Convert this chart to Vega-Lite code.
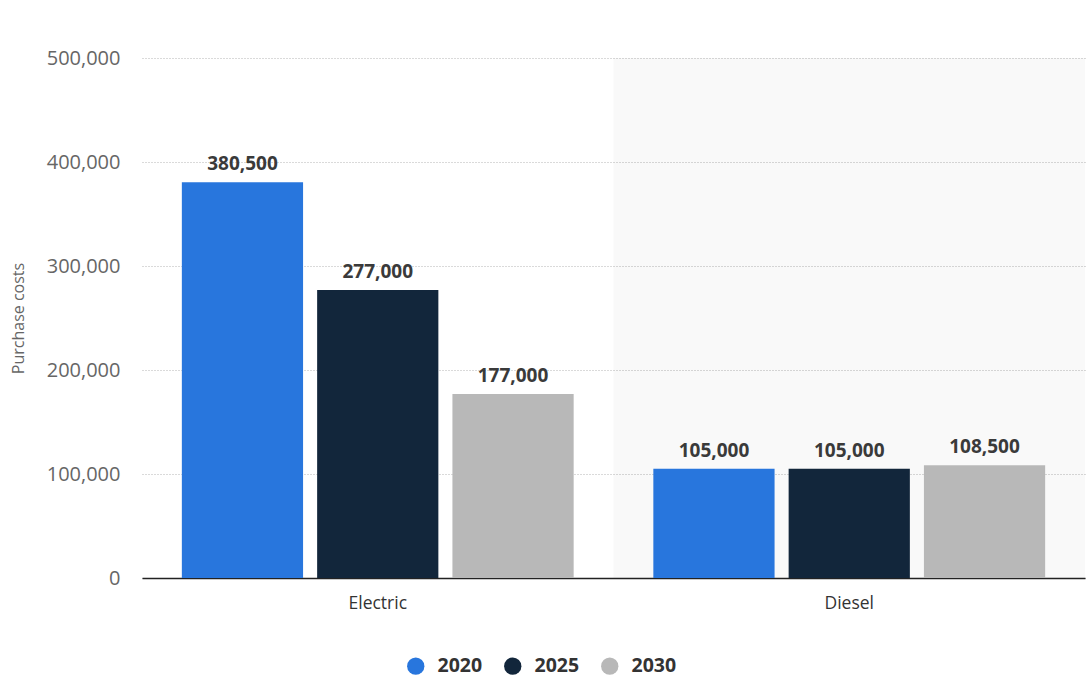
{
  "$schema": "https://vega.github.io/schema/vega-lite/v6.json",
  "width": 943,
  "height": 520,
  "autosize": {"type": "none"},
  "padding": {"left": 142, "top": 58, "right": 2, "bottom": 100},
  "background": "white",
  "config": {"font": "Open Sans", "view": {"stroke": null}},
  "resolve": {"scale": {"x": "independent"}},
  "layer": [
    {
      "data": {"values": [{"Category": "Diesel"}]},
      "mark": {"type": "rect", "fill": "#000000", "fillOpacity": 0.022},
      "encoding": {
        "x": {"field": "Category", "type": "nominal", "scale": {"domain": ["Electric", "Diesel"], "paddingInner": 0, "paddingOuter": 0}, "axis": null},
        "y": {"datum": 500000, "type": "quantitative",
          "scale": {"domain": [0, 500000], "nice": false},
          "axis": {"title": "Purchase costs", "titleFontSize": 16, "titleFontWeight": "normal", "titleColor": "#666666", "titlePadding": 20,
                   "values": [0, 100000, 200000, 300000, 400000, 500000], "format": ",d", "labelFontSize": 20, "labelColor": "#666666", "labelPadding": 22,
                   "ticks": false, "domain": false, "grid": true, "gridColor": "#b4b4b4", "gridDash": [1, 2], "gridWidth": 1}},
        "y2": {"datum": 0}
      }
    },
    {
      "data": {
        "values": [
          {"Category": "Electric", "Year": "2020", "Cost": 380500},
          {"Category": "Electric", "Year": "2025", "Cost": 277000},
          {"Category": "Electric", "Year": "2030", "Cost": 177000},
          {"Category": "Diesel", "Year": "2020", "Cost": 105000},
          {"Category": "Diesel", "Year": "2025", "Cost": 105000},
          {"Category": "Diesel", "Year": "2030", "Cost": 108500}
        ]
      },
      "encoding": {
        "x": {
          "field": "Category", "type": "nominal", "sort": ["Electric", "Diesel"],
          "scale": {"paddingInner": 0.169, "paddingOuter": 0.0845},
          "axis": {"title": null, "labelAngle": 0, "labelFontSize": 17.5, "labelColor": "#333333", "labelPadding": 16, "ticks": false, "domainColor": "#222222", "domainWidth": 1.5}
        },
        "xOffset": {"field": "Year", "type": "nominal", "scale": {"paddingInner": 0.104, "paddingOuter": 0}},
        "y": {
          "field": "Cost", "type": "quantitative",
          "scale": {"domain": [0, 500000], "nice": false},
          "axis": {"title": "Purchase costs", "titleFontSize": 16, "titleFontWeight": "normal", "titleColor": "#666666", "titlePadding": 20,
                   "values": [0, 100000, 200000, 300000, 400000, 500000], "format": ",d", "labelFontSize": 20, "labelColor": "#666666", "labelPadding": 22,
                   "ticks": false, "domain": false, "grid": true, "gridColor": "#b4b4b4", "gridDash": [1, 2], "gridWidth": 1}
        }
      },
      "layer": [
        {
          "mark": {"type": "bar"},
          "encoding": {
            "color": {
              "field": "Year", "type": "nominal",
              "scale": {"domain": ["2020", "2025", "2030"], "range": ["#2876dd", "#12263b", "#b8b8b8"]},
              "legend": {"title": null, "orient": "none", "direction": "horizontal", "legendX": 264, "legendY": 598,
                         "symbolType": "circle", "symbolSize": 300, "symbolStrokeWidth": 0, "labelFontSize": 19.5, "labelFontWeight": "bold",
                         "labelColor": "#333333", "labelOffset": 12, "columnPadding": 20}
            }
          }
        },
        {
          "mark": {"type": "text", "baseline": "bottom", "dy": -8, "fontSize": 19, "fontWeight": "bold", "color": "#3a3a3a"},
          "encoding": {"text": {"field": "Cost", "type": "quantitative", "format": ","}}
        }
      ]
    }
  ]
}
